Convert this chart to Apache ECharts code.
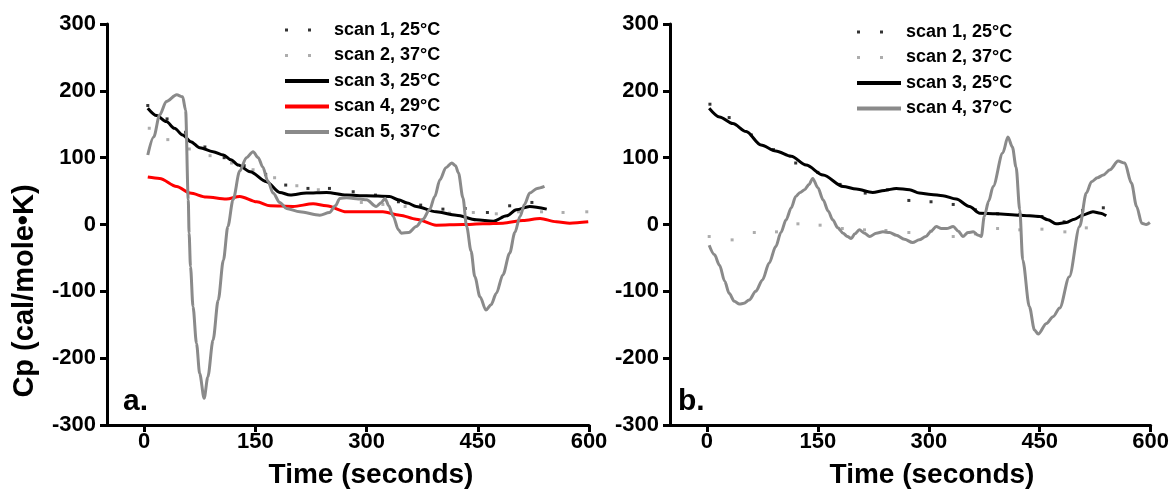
<!DOCTYPE html>
<html>
<head>
<meta charset="utf-8">
<script src="https://cdn.jsdelivr.net/npm/echarts@6/dist/echarts.min.js"></script>
<style>
  html, body { margin: 0; padding: 0; background: #fff; }
  #chart { width: 1172px; height: 491px; }
</style>
</head>
<body>
<div id="chart"></div>
<script>
// ---- panel a ----
const aScan1T = [5, 31, 56, 82, 108, 135, 164, 191, 221, 250, 282, 312, 343, 373, 403, 433, 463, 493, 523]
const aScan1V = [178, 158, 138, 116, 100, 88, 75, 59, 54, 54, 49, 44, 34, 29, 23, 24, 18, 28, 33]

const aScan2T = [7, 32, 61, 89, 118, 147, 176, 206, 235, 264, 293, 322, 352, 382, 412, 444, 475, 505, 536, 565, 597]
const aScan2V = [144, 127, 113, 103, 92, 82, 70, 58, 52, 45, 33, 30, 27, 22, 17, 18, 16, 19, 19, 18, 19]

const aScan3T = [5, 17, 30, 41, 52, 63, 75, 93, 107, 117, 127, 143, 165, 183, 197, 219, 246, 273, 300, 331, 343, 355, 367, 394, 421, 448, 471, 489, 502, 520, 543]
const aScan3V = [174, 163, 154, 144, 134, 124, 115, 109, 104, 97, 89, 79, 64, 48, 44, 47, 48, 44, 43, 42, 37, 32, 27, 19, 14, 7, 5, 13, 22, 27, 23]

const aScan4T = [5, 21, 44, 62, 84, 111, 129, 152, 170, 201, 228, 246, 273, 300, 322, 345, 367, 394, 430, 457, 484, 511, 534, 556, 574, 599]
const aScan4V = [71, 69, 57, 47, 41, 38, 42, 34, 28, 27, 31, 28, 19, 19, 19, 14, 8, -1, 0, 1, 2, 6, 9, 4, 2, 4]

const aScan5T = [5, 13, 21, 30, 44, 52, 56, 59.6, 60.7, 62.6, 66, 70.7, 75, 81, 86, 93, 100, 107, 113, 120, 129, 138, 147, 154, 160, 167, 174, 183, 192, 210, 237, 250, 258, 264, 273, 282, 291, 300, 313, 320, 325, 330, 336, 343, 347, 357, 367, 376, 385, 392, 399, 407, 415, 420, 424, 430, 435, 441, 446, 453, 461, 468, 475, 484, 493, 500, 507, 513, 520, 530, 540]
const aScan5V = [104, 131, 164, 184, 194, 191, 171, 37, -13, -63, -123, -178, -223, -260, -228, -173, -113, -53, -3, 37, 80, 100, 109, 100, 86, 65, 47, 33, 24, 19, 14, 18, 28, 39, 40, 39, 38, 37, 27, 33, 39, 28, 12, -8, -13, -12, -3, 8, 22, 42, 67, 85, 92, 88, 77, 40, -3, -40, -78, -108, -128, -120, -103, -75, -43, -12, 12, 30, 47, 54, 57]

// ---- panel b ----
const bScan1T = [4, 30, 60, 90, 120, 150, 180, 214, 244, 273, 303, 333, 363, 393, 423, 453, 483, 508, 536]
const bScan1V = [180, 160, 134, 112, 92, 78, 60, 47, 52, 36, 34, 30, 22, 16, 15, 12, 4, 21, 25]

const bScan2T = [3, 34, 64, 94, 123, 153, 183, 213, 242, 273, 303, 333, 363, 393, 423, 453, 484, 513]
const bScan2V = [-18, -23, -12, -11, 1, -1, -6, -8, -9, -12, -10, -18, -14, -6, -8, -7, -11, -5]

const bScan3T = [3, 17, 35, 53, 73, 93, 114, 134, 157, 184, 202, 224, 240, 256, 274, 287, 303, 319, 337, 355, 369, 391, 423, 450, 461, 472, 486, 497, 508, 522, 532, 540]
const bScan3V = [174, 161, 151, 139, 119, 110, 102, 89, 74, 57, 53, 48, 51, 54, 52, 47, 45, 43, 38, 27, 17, 16, 14, 12, 7, 1, 3, 8, 14, 19, 17, 13]

const bScan4T = [3, 10, 17, 24, 30, 37, 44, 50, 57, 66, 75, 84, 93, 100, 107, 114, 120, 126, 132, 138, 143, 150, 157, 164, 170, 177, 184, 190, 195, 200, 206, 213, 220, 229, 238, 247, 256, 267, 278, 287, 296, 303, 310, 317, 324, 333, 340, 346, 353, 360, 367, 371, 375, 381, 387, 400, 407, 413, 418, 423, 427, 436, 443, 448, 459, 468, 477, 490, 504, 513, 520, 528, 536, 545, 556, 565, 574, 581, 588, 594, 599]
const bScan4V = [-31, -45, -61, -85, -103, -115, -119, -118, -113, -100, -83, -58, -33, -12, 7, 25, 42, 48, 52, 60, 69, 55, 37, 20, 7, -5, -13, -18, -21, -14, -8, -13, -18, -13, -11, -12, -16, -22, -27, -23, -18, -10, -3, -6, -6, -3, -10, -18, -12, -11, -16, -18, 12, 35, 57, 107, 131, 116, 86, 22, -53, -123, -158, -164, -148, -138, -125, -78, -3, 47, 64, 70, 74, 82, 95, 92, 62, 27, 2, 0, 3]

const xTicks = [0, 150, 300, 450, 600]
const FONT = 'Liberation Sans'
const DOT_ICON = 'path://M0,0L0,0M0,0h3v3h-3zM23,0h3v3h-3zM44,3L44,3'

const zip = (t, v) => t.map((x, i) => [x, v[i]])

function xAxisFor(i) {
  return {
    gridIndex: i, type: 'value', min: -50, max: 600,
    axisLine: { onZero: false, lineStyle: { color: '#000', width: 3 } },
    axisTick: { show: true, length: 7, customValues: xTicks, lineStyle: { color: '#000', width: 3 } },
    axisLabel: { customValues: xTicks, color: '#000', fontFamily: FONT, fontWeight: 'bold', fontSize: 22, margin: 6 },
    splitLine: { show: false }
  }
}

function yAxisFor(i) {
  return {
    gridIndex: i, type: 'value', min: -300, max: 300, interval: 100,
    axisLine: { show: true, onZero: false, lineStyle: { color: '#000', width: 3 } },
    axisTick: { show: true, length: 7, lineStyle: { color: '#000', width: 3 } },
    axisLabel: { color: '#000', fontFamily: FONT, fontWeight: 'bold', fontSize: 22, margin: 11 },
    splitLine: { show: false }
  }
}

function dots(name, data, color, i) {
  return { type: 'scatter', name, data, xAxisIndex: i, yAxisIndex: i, symbol: 'rect', symbolSize: 3,
    itemStyle: { color }, z: 2 }
}

function line(name, data, color, i) {
  return { type: 'line', name, data, xAxisIndex: i, yAxisIndex: i, showSymbol: false, symbol: 'none',
    smooth: 0.3, smoothMonotone: 'x', lineStyle: { color, width: 3 }, itemStyle: { color }, z: 3 }
}

function legendFor(left, top, items) {
  return {
    left, top, orient: 'vertical', padding: 0, itemWidth: 44, itemHeight: 4, itemGap: 5.5,
    selectedMode: false,
    textStyle: { color: '#000', fontFamily: FONT, fontWeight: 'bold', fontSize: 18, lineHeight: 20 },
    data: items.map(([name, color, dotted]) => ({
      name, icon: dotted ? DOT_ICON : 'rect', itemStyle: { color, borderWidth: 0 }
    }))
  }
}

const BLACK = '#000000', DOTGREY = '#999999', RED = '#ff0000', GREY = '#8a8a8a'

const chart = echarts.init(document.getElementById('chart'))
chart.setOption({
  animation: false,
  backgroundColor: '#fff',
  grid: [
    { left: 107, top: 24, width: 482, height: 401 },
    { left: 670, top: 24, width: 481, height: 401 }
  ],
  xAxis: [xAxisFor(0), xAxisFor(1)],
  yAxis: [yAxisFor(0), yAxisFor(1)],
  legend: [
    legendFor(285, 20, [
      ['scan 1, 25°C', BLACK, true], ['scan 2, 37°C', DOTGREY, true], ['scan 3, 25°C', BLACK],
      ['scan 4, 29°C', RED], ['scan 5, 37°C', GREY]
    ]),
    legendFor(857, 22, [
      ['scan 1, 25°C', BLACK, true], ['scan 2, 37°C', DOTGREY, true], ['scan 3, 25°C', BLACK],
      ['scan 4, 37°C', GREY]
    ])
  ],
  series: [
    dots('scan 1, 25°C', zip(aScan1T, aScan1V), BLACK, 0),
    dots('scan 2, 37°C', zip(aScan2T, aScan2V), DOTGREY, 0),
    line('scan 3, 25°C', zip(aScan3T, aScan3V), BLACK, 0),
    line('scan 4, 29°C', zip(aScan4T, aScan4V), RED, 0),
    line('scan 5, 37°C', zip(aScan5T, aScan5V), GREY, 0),
    dots('scan 1, 25°C', zip(bScan1T, bScan1V), BLACK, 1),
    dots('scan 2, 37°C', zip(bScan2T, bScan2V), DOTGREY, 1),
    line('scan 3, 25°C', zip(bScan3T, bScan3V), BLACK, 1),
    line('scan 4, 37°C', zip(bScan4T, bScan4V), GREY, 1)
  ],
  graphic: [
    { type: 'text', x: 25, y: 291, rotation: Math.PI / 2,
      style: { text: 'Cp (cal/mole•K)', font: 'bold 29px "Liberation Sans"', fill: '#000', align: 'center', verticalAlign: 'middle' } },
    { type: 'text', x: 371, y: 475,
      style: { text: 'Time (seconds)', font: 'bold 28px "Liberation Sans"', fill: '#000', align: 'center', verticalAlign: 'middle' } },
    { type: 'text', x: 932, y: 475,
      style: { text: 'Time (seconds)', font: 'bold 28px "Liberation Sans"', fill: '#000', align: 'center', verticalAlign: 'middle' } },
    { type: 'text', x: 123, y: 402,
      style: { text: 'a.', font: 'bold 30px "Liberation Sans"', fill: '#000', align: 'left', verticalAlign: 'middle' } },
    { type: 'text', x: 678, y: 402,
      style: { text: 'b.', font: 'bold 30px "Liberation Sans"', fill: '#000', align: 'left', verticalAlign: 'middle' } }
  ]
})
</script>
</body>
</html>
